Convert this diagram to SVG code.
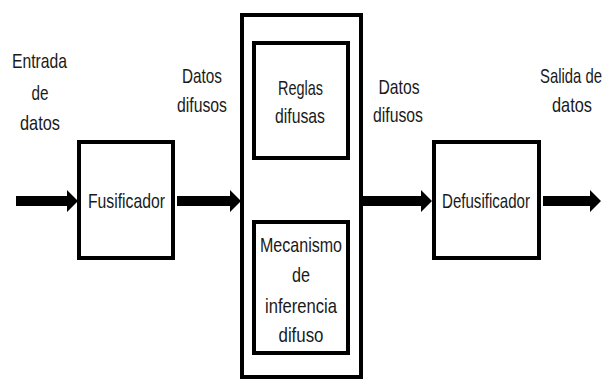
<svg xmlns="http://www.w3.org/2000/svg" width="606" height="382" viewBox="0 0 606 382">
<style>
.box{fill:#fff;stroke:#000;stroke-width:4}
.t{font-family:"Liberation Sans",Arial,sans-serif;font-size:21px;fill:#1a1a1a;text-anchor:middle}
.ar{fill:#000}
</style>
<rect width="606" height="382" fill="#fff"/>
<g id="labels">
<text class="t" x="39.5" y="68" textLength="55" lengthAdjust="spacingAndGlyphs">Entrada</text>
<text class="t" x="40" y="100" textLength="17" lengthAdjust="spacingAndGlyphs">de</text>
<text class="t" x="40" y="130" textLength="40" lengthAdjust="spacingAndGlyphs">datos</text>
<text class="t" x="202" y="83" textLength="40" lengthAdjust="spacingAndGlyphs">Datos</text>
<text class="t" x="202" y="112" textLength="50" lengthAdjust="spacingAndGlyphs">difusos</text>
<text class="t" x="399" y="94" textLength="41" lengthAdjust="spacingAndGlyphs">Datos</text>
<text class="t" x="398" y="122" textLength="50" lengthAdjust="spacingAndGlyphs">difusos</text>
<text class="t" x="571" y="83" textLength="62" lengthAdjust="spacingAndGlyphs">Salida de</text>
<text class="t" x="572" y="112" textLength="40" lengthAdjust="spacingAndGlyphs">datos</text>
</g>
<g id="fusificador">
<rect class="box" x="79" y="142" width="94" height="116"/>
<text class="t" x="126.5" y="208" textLength="77" lengthAdjust="spacingAndGlyphs">Fusificador</text>
</g>
<g id="motor">
<rect class="box" x="242" y="15" width="119" height="362"/>
</g>
<g id="reglas">
<rect class="box" x="254" y="43" width="94" height="115"/>
<text class="t" x="300.5" y="95" textLength="45" lengthAdjust="spacingAndGlyphs">Reglas</text>
<text class="t" x="300" y="123" textLength="50" lengthAdjust="spacingAndGlyphs">difusas</text>
</g>
<g id="mecanismo">
<rect class="box" x="254" y="222" width="94" height="131"/>
<text class="t" x="301" y="252" textLength="82" lengthAdjust="spacingAndGlyphs">Mecanismo</text>
<text class="t" x="301" y="282" textLength="18" lengthAdjust="spacingAndGlyphs">de</text>
<text class="t" x="301" y="313" textLength="72" lengthAdjust="spacingAndGlyphs">inferencia</text>
<text class="t" x="301" y="342" textLength="45" lengthAdjust="spacingAndGlyphs">difuso</text>
</g>
<g id="defusificador">
<rect class="box" x="434" y="142" width="105" height="116"/>
<text class="t" x="486" y="208" textLength="88" lengthAdjust="spacingAndGlyphs">Defusificador</text>
</g>
<g id="connectors">
<polygon class="ar" points="16,196 67,196 67,190 78,201 67,212 67,206 16,206"/>
<polygon class="ar" points="177,196 230,196 230,190 241,201 230,212 230,206 177,206"/>
<polygon class="ar" points="363,196 421,196 421,190 432,201 421,212 421,206 363,206"/>
<polygon class="ar" points="543,196 590,196 590,190 601,201 590,212 590,206 543,206"/>
</g>
</svg>
